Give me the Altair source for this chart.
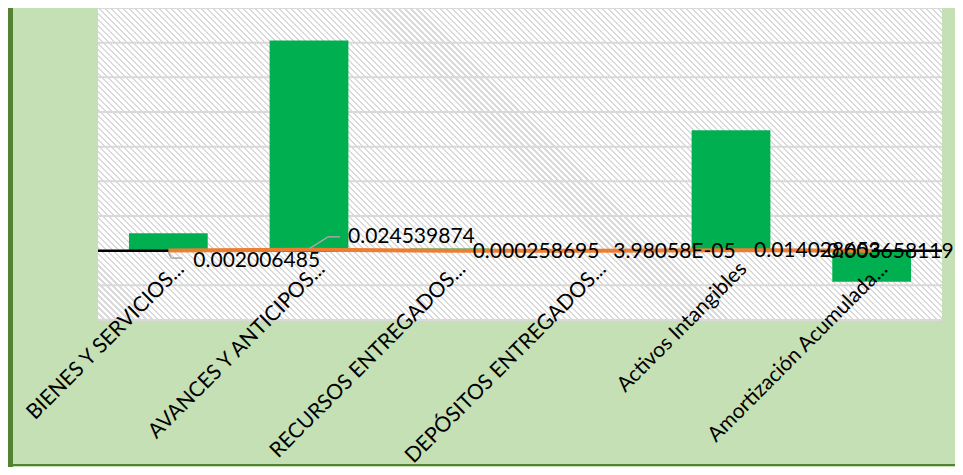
import altair as alt
import pandas as pd

# ---- data ----
categories = [
    "BIENES Y SERVICIOS...",
    "AVANCES Y ANTICIPOS...",
    "RECURSOS ENTREGADOS...",
    "DEPÓSITOS ENTREGADOS...",
    "Activos Intangibles",
    "Amortización Acumulada...",
]
bar_values = [0.50, 6.06, 0.06, 0.01, 3.47, -0.90]
pct_values = [0.002006485, 0.024539874, 0.000258695, 3.98058e-05, 0.014028653, -0.003658119]
grid_ticks = [-2, -1, 0, 1, 2, 3, 4, 5, 6, 7]


def excel_general(v):
    if abs(v) < 1e-4:
        return f"{v:.5E}"
    return f"{v:.9f}"


df = pd.DataFrame({
    "i": list(range(len(categories))),
    "cat": categories,
    "bar": bar_values,
    "pct": pct_values,
    "label": [excel_general(v) for v in pct_values],
})
one = pd.DataFrame({"z": [0]})

# ---- layout / style ----
W, H = 844, 312
FONT = "Lato"
y_scale = alt.Scale(domain=[-2, 7], nice=False, zero=False)
zero_offset = -(H - H * 7 / 9)

x_enc = alt.X(
    "cat:N", sort=categories, title=None,
    scale=alt.Scale(paddingInner=0.44, paddingOuter=0.22),
    axis=alt.Axis(orient="bottom", offset=zero_offset, labelAngle=-45,
                  labelAlign="right", labelBaseline="top", labelFont=FONT,
                  labelFontSize=21, labelColor="black", labelPadding=7,
                  labelOffset=5,
                  domain=False, ticks=False, grid=False, labelOverlap=False,
                  labelLimit=0, labelBound=False, zindex=1),
)

# diagonal hatch as a striped linear gradient
r = H / W
k = (1 + r) / (1 + r * r)
N = round((W + H) / 6)
frac = 0.35
stops = []
for n in range(N):
    a, b, c = n / N, (n + frac) / N, (n + 1) / N
    stops += [
        {"offset": a, "color": "#DADADA"},
        {"offset": b, "color": "#DADADA"},
        {"offset": b, "color": "#FFFFFF"},
        {"offset": c, "color": "#FFFFFF"},
    ]
hatch_fill = {"gradient": "linear", "x1": 0, "y1": 1, "x2": k, "y2": 1 - k * r, "stops": stops}

hatch = alt.Chart(one).mark_rect(fill=hatch_fill).encode(opacity=alt.value(1))

grid = alt.Chart(pd.DataFrame({"v": grid_ticks})).mark_rule(
    color="#D9D9D9", strokeWidth=2
).encode(y=alt.Y("v:Q", scale=y_scale, axis=None))

base = alt.Chart(df)

bars = base.mark_bar(color="#00B050").encode(
    x=x_enc, y=alt.Y("bar:Q", scale=y_scale, axis=None)
)

zero = alt.Chart(one).mark_rule(color="black", strokeWidth=2.5).encode(
    y=alt.Y("z:Q", scale=y_scale, axis=None)
)

line = base.mark_line(color="#ED7D31", strokeWidth=4).encode(
    x=x_enc, y=alt.Y("pct:Q", scale=y_scale, axis=None)
)


def leader(idx, xo, yo, x2o, y2o):
    return base.transform_filter(alt.datum.i == idx).mark_rule(
        color="#A6A6A6", strokeWidth=1.5,
        xOffset=xo, yOffset=yo, x2Offset=x2o, y2Offset=y2o,
    ).encode(
        x=x_enc, x2=alt.X2("cat"),
        y=alt.Y("pct:Q", scale=y_scale, axis=None), y2=alt.Y2("pct"),
    )


leaders = [
    leader(0, 0, 1.5, 3, 7.5),
    leader(0, 3, 7.5, 14, 7.5),
    leader(1, 0, -1, 19, -13),
    leader(1, 19, -13, 31, -13),
]


def labels(filt, align, dx, dy):
    return base.transform_filter(filt).mark_text(
        align=align, baseline="middle", dx=dx, dy=dy,
        font=FONT, fontSize=21, color="black",
    ).encode(
        x=x_enc, y=alt.Y("pct:Q", scale=y_scale, axis=None), text="label:N"
    )


lab = [
    labels(alt.datum.i == 0, "left", 25, 10),
    labels(alt.datum.i == 1, "left", 39, -13),
    labels((alt.datum.i >= 2) & (alt.datum.i <= 4), "left", 23, 1),
    labels(alt.datum.i == 5, "right", 82, 1),
]

left_border = alt.Chart(one).mark_rule(color="#548235", strokeWidth=6).encode(
    x=alt.value(-88), y=alt.value(-10), y2=alt.value(470)
)
bottom_border = alt.Chart(one).mark_rule(color="#548235", strokeWidth=2).encode(
    x=alt.value(-85), x2=alt.value(870), y=alt.value(457)
)

chart = alt.layer(
    hatch, grid, bars, zero, line, *leaders, *lab, left_border, bottom_border
).properties(
    width=W, height=H,
    padding={"left": 90, "top": 0, "right": 13, "bottom": 147},
    autosize=alt.AutoSizeParams(type="none"),
    background="#C5E0B4",
).configure_view(strokeWidth=0, fill="white")

chart.save("out.html", embed_options={"renderer": "svg", "actions": False})
